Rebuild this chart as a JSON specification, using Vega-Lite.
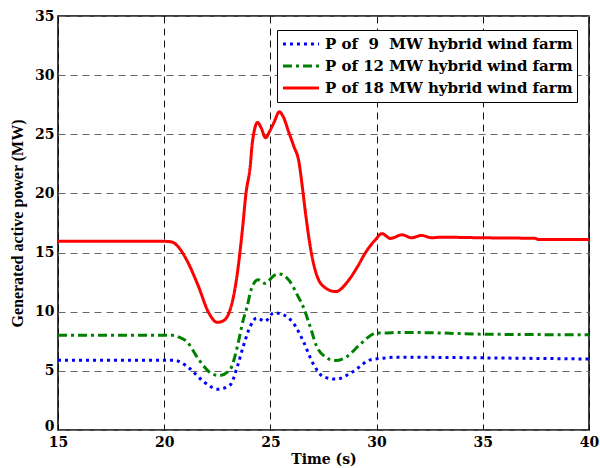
{
  "$schema": "https://vega.github.io/schema/vega-lite/v6.json",
  "width": 531,
  "height": 414,
  "autosize": "none",
  "padding": {"left": 58, "top": 16, "right": 11, "bottom": 38},
  "background": "white",
  "config": {
    "view": {"stroke": "black", "strokeWidth": 1.5},
    "font": "DejaVu Serif",
    "axis": {
      "labelFont": "DejaVu Serif", "labelFontWeight": "bold", "labelFontSize": 14, "labelColor": "black",
      "titleFont": "DejaVu Serif", "titleFontWeight": "bold", "titleFontSize": 14, "titleColor": "black",
      "domain": false, "ticks": false, "gridDash": [7, 5], "gridWidth": 1, "labelFlush": false
    },
    "legend": {
      "labelFont": "DejaVu Serif", "labelFontWeight": "bold", "labelFontSize": 15, "labelColor": "black"
    }
  },
  "data": {
    "values": [
      {"s": "B", "t": 15, "p": 5.9}, {"s": "B", "t": 20.5, "p": 5.9}, {"s": "B", "t": 20.8, "p": 5.7},
      {"s": "B", "t": 21.2, "p": 5.2}, {"s": "B", "t": 21.85, "p": 4.1}, {"s": "B", "t": 22.55, "p": 3.45},
      {"s": "B", "t": 23.1, "p": 3.8}, {"s": "B", "t": 23.45, "p": 5.4}, {"s": "B", "t": 23.72, "p": 7.06},
      {"s": "B", "t": 24.05, "p": 8.75}, {"s": "B", "t": 24.35, "p": 9.47}, {"s": "B", "t": 24.75, "p": 9.2},
      {"s": "B", "t": 25.15, "p": 9.9}, {"s": "B", "t": 25.6, "p": 9.75}, {"s": "B", "t": 26.08, "p": 9.04},
      {"s": "B", "t": 26.55, "p": 7.5}, {"s": "B", "t": 27.0, "p": 5.65}, {"s": "B", "t": 27.5, "p": 4.5},
      {"s": "B", "t": 28.1, "p": 4.3}, {"s": "B", "t": 28.9, "p": 4.95}, {"s": "B", "t": 29.7, "p": 5.93},
      {"s": "B", "t": 30.3, "p": 6.07}, {"s": "B", "t": 30.95, "p": 6.16}, {"s": "B", "t": 32, "p": 6.15},
      {"s": "B", "t": 35, "p": 6.1}, {"s": "B", "t": 40, "p": 6.0},

      {"s": "G", "t": 15, "p": 8.0}, {"s": "G", "t": 20.4, "p": 8.0}, {"s": "G", "t": 20.7, "p": 7.85},
      {"s": "G", "t": 21.05, "p": 7.5}, {"s": "G", "t": 21.65, "p": 5.9}, {"s": "G", "t": 22.2, "p": 4.8},
      {"s": "G", "t": 22.6, "p": 4.6}, {"s": "G", "t": 23.1, "p": 5.1}, {"s": "G", "t": 23.45, "p": 7.1},
      {"s": "G", "t": 23.72, "p": 9.3}, {"s": "G", "t": 23.9, "p": 10.4}, {"s": "G", "t": 24.1, "p": 11.9},
      {"s": "G", "t": 24.42, "p": 12.7}, {"s": "G", "t": 24.75, "p": 12.4}, {"s": "G", "t": 25.2, "p": 13.1},
      {"s": "G", "t": 25.4, "p": 13.2}, {"s": "G", "t": 25.9, "p": 12.6}, {"s": "G", "t": 26.3, "p": 11.3},
      {"s": "G", "t": 26.55, "p": 10.4}, {"s": "G", "t": 26.87, "p": 8.75}, {"s": "G", "t": 27.18, "p": 7.06},
      {"s": "G", "t": 27.57, "p": 6.2}, {"s": "G", "t": 28.05, "p": 5.87}, {"s": "G", "t": 28.6, "p": 6.2},
      {"s": "G", "t": 29.2, "p": 7.2}, {"s": "G", "t": 30.0, "p": 8.2}, {"s": "G", "t": 30.4, "p": 8.2},
      {"s": "G", "t": 31.0, "p": 8.25}, {"s": "G", "t": 33, "p": 8.2}, {"s": "G", "t": 35, "p": 8.1},
      {"s": "G", "t": 40, "p": 8.05},

      {"s": "R", "t": 15, "p": 15.95}, {"s": "R", "t": 20.0, "p": 15.95}, {"s": "R", "t": 20.35, "p": 15.9},
      {"s": "R", "t": 20.7, "p": 15.4}, {"s": "R", "t": 21.05, "p": 14.4}, {"s": "R", "t": 21.6, "p": 12.2},
      {"s": "R", "t": 22.1, "p": 9.9}, {"s": "R", "t": 22.5, "p": 9.1}, {"s": "R", "t": 22.75, "p": 9.2},
      {"s": "R", "t": 23.05, "p": 9.9}, {"s": "R", "t": 23.4, "p": 12.7}, {"s": "R", "t": 23.68, "p": 16.9},
      {"s": "R", "t": 23.85, "p": 20.0}, {"s": "R", "t": 24.05, "p": 22.3}, {"s": "R", "t": 24.15, "p": 24.3},
      {"s": "R", "t": 24.4, "p": 26.0}, {"s": "R", "t": 24.55, "p": 25.6}, {"s": "R", "t": 24.78, "p": 24.7},
      {"s": "R", "t": 24.95, "p": 25.2}, {"s": "R", "t": 25.17, "p": 26.0}, {"s": "R", "t": 25.42, "p": 26.9},
      {"s": "R", "t": 25.6, "p": 26.5}, {"s": "R", "t": 25.88, "p": 25.1}, {"s": "R", "t": 26.1, "p": 24.0},
      {"s": "R", "t": 26.35, "p": 22.6}, {"s": "R", "t": 26.5, "p": 20.6}, {"s": "R", "t": 26.67, "p": 18.1},
      {"s": "R", "t": 26.9, "p": 15.25}, {"s": "R", "t": 27.2, "p": 13.0}, {"s": "R", "t": 27.6, "p": 12.0},
      {"s": "R", "t": 28.07, "p": 11.7}, {"s": "R", "t": 28.7, "p": 12.7}, {"s": "R", "t": 29.1, "p": 13.8},
      {"s": "R", "t": 29.48, "p": 15.0}, {"s": "R", "t": 29.95, "p": 16.1}, {"s": "R", "t": 30.25, "p": 16.6},
      {"s": "R", "t": 30.65, "p": 16.2}, {"s": "R", "t": 31.2, "p": 16.5}, {"s": "R", "t": 31.65, "p": 16.25},
      {"s": "R", "t": 32.1, "p": 16.45}, {"s": "R", "t": 32.6, "p": 16.25}, {"s": "R", "t": 33, "p": 16.3},
      {"s": "R", "t": 35, "p": 16.25}, {"s": "R", "t": 37.5, "p": 16.2}, {"s": "R", "t": 37.6, "p": 16.1},
      {"s": "R", "t": 40, "p": 16.1}
    ]
  },
  "transform": [
    {"lookup": "s", "from": {"data": {"values": [
      {"s": "B", "name": "P of \u00a09\u00a0 MW hybrid wind farm"},
      {"s": "G", "name": "P of 12 MW hybrid wind farm"},
      {"s": "R", "name": "P of 18 MW hybrid wind farm"}
    ]}, "key": "s", "fields": ["name"]}}
  ],
  "mark": {"type": "line", "interpolate": "monotone", "strokeWidth": 3, "strokeCap": "butt", "clip": true},
  "encoding": {
    "x": {
      "field": "t", "type": "quantitative",
      "scale": {"domain": [15, 40], "nice": false},
      "axis": {"values": [15, 20, 25, 30, 35, 40], "title": "Time (s)", "labelPadding": 5, "titlePadding": 3, "gridColor": "#111"}
    },
    "y": {
      "field": "p", "type": "quantitative",
      "scale": {"domain": [0, 35], "nice": false},
      "axis": {
        "values": [0, 5, 10, 15, 20, 25, 30, 35], "title": "Generated active power (MW)",
        "titleFont": "Liberation Serif", "titleFontSize": 16, "labelPadding": 4, "titlePadding": 9, "gridColor": "#666",
        "labelOffset": {"condition": {"test": "datum.value === 0", "value": -4}, "value": 0}
      }
    },
    "color": {
      "field": "name", "type": "nominal",
      "scale": {
        "domain": ["P of \u00a09\u00a0 MW hybrid wind farm", "P of 12 MW hybrid wind farm", "P of 18 MW hybrid wind farm"],
        "range": ["#0000FF", "#008000", "#FF0000"]
      },
      "legend": {
        "title": null, "orient": "none", "legendX": 219, "legendY": 14,
        "symbolType": "stroke", "symbolStrokeWidth": 3, "symbolSize": 1300,
        "clipHeight": 20, "rowPadding": 2, "labelOffset": 4, "padding": 4, "labelLimit": 400,
        "strokeColor": "black", "fillColor": "white", "cornerRadius": 0
      }
    },
    "strokeDash": {
      "field": "name", "type": "nominal",
      "scale": {
        "domain": ["P of \u00a09\u00a0 MW hybrid wind farm", "P of 12 MW hybrid wind farm", "P of 18 MW hybrid wind farm"],
        "range": [[3, 4], [9, 4, 3, 4], [1, 0]]
      },
      "legend": null
    },
    "order": {"field": "t", "type": "quantitative"}
  }
}
